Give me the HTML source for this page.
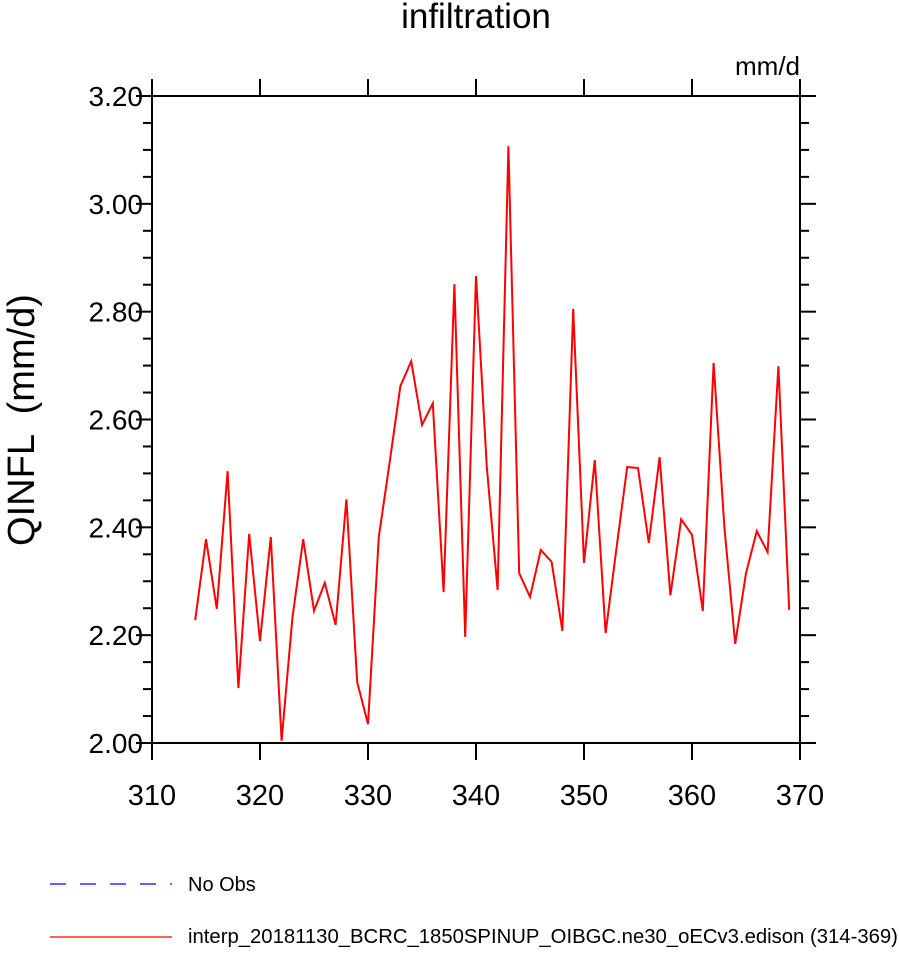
<!DOCTYPE html>
<html><head><meta charset="utf-8"><style>
body{margin:0;background:#fff;}
svg text{font-family:"Liberation Sans",sans-serif;fill:#000;}
</style></head><body>
<svg id="chart" width="899" height="948" xmlns="http://www.w3.org/2000/svg">
<text x="476" y="28" font-size="35" text-anchor="middle">infiltration</text>
<text x="800" y="75" font-size="26" text-anchor="end">mm/d</text>
<text transform="translate(34,420) rotate(-90)" font-size="38" text-anchor="middle" xml:space="preserve">QINFL  (mm/d)</text>
<g id="axes"></g>
<g id="series"></g>
<g>
<line x1="50" y1="884" x2="172" y2="884" stroke="#00f" stroke-width="1.3" stroke-dasharray="16,14"/>
<text x="188" y="891" font-size="20">No Obs</text>
<line x1="50" y1="937" x2="172" y2="937" stroke="#f00" stroke-width="1.3"/>
<text x="188" y="943" font-size="20.3">interp_20181130_BCRC_1850SPINUP_OIBGC.ne30_oECv3.edison (314-369)</text>
</g>
</svg>
<script>
const years=[314,315,316,317,318,319,320,321,322,323,324,325,326,327,328,329,330,331,332,333,334,335,336,337,338,339,340,341,342,343,344,345,346,347,348,349,350,351,352,353,354,355,356,357,358,359,360,361,362,363,364,365,366,367,368,369];
const values=[2.228,2.378,2.249,2.504,2.102,2.388,2.189,2.382,2.004,2.232,2.378,2.245,2.297,2.219,2.452,2.113,2.035,2.382,2.52,2.662,2.708,2.590,2.630,2.280,2.851,2.197,2.866,2.512,2.284,3.107,2.315,2.271,2.358,2.336,2.208,2.805,2.334,2.525,2.204,2.36,2.512,2.510,2.371,2.530,2.274,2.415,2.386,2.245,2.705,2.40,2.184,2.315,2.393,2.354,2.699,2.247];
const xTicks=[310,320,330,340,350,360,370];
const yTicks=[2.0,2.2,2.4,2.6,2.8,3.0,3.2];
const yTickLabels=["2.00","2.20","2.40","2.60","2.80","3.00","3.20"];
const L=152,R=800,T=96,B=743,x0=310,x1=370,y0=2.0,y1=3.2;
const sx=v=>L+(v-x0)/(x1-x0)*(R-L);
const sy=v=>B-(v-y0)/(y1-y0)*(B-T);
const NS="http://www.w3.org/2000/svg";
const ax=document.getElementById('axes');
function ln(a,b,c,d,name){const e=document.createElementNS(NS,'line');e.setAttribute('x1',a);e.setAttribute('y1',b);e.setAttribute('x2',c);e.setAttribute('y2',d);e.setAttribute('stroke','#000');e.setAttribute('stroke-width','2');


ax.appendChild(e);}
const fr=document.createElementNS(NS,'rect');fr.setAttribute('x',L);fr.setAttribute('y',T);fr.setAttribute('width',R-L);fr.setAttribute('height',B-T);fr.setAttribute('fill','none');fr.setAttribute('stroke','#000');fr.setAttribute('stroke-width','2');


ax.appendChild(fr);
xTicks.forEach(v=>{const x=sx(v);ln(x,B,x,B+17,'x-tick');ln(x,T,x,T-17,'x-tick-top');
const t=document.createElementNS(NS,'text');t.setAttribute('x',x);t.setAttribute('y',805);t.setAttribute('font-size','29');t.setAttribute('text-anchor','middle');t.textContent=v;


ax.appendChild(t);});
for(let v=y0;v<=y1+1e-9;v+=0.05){const y=sy(v);const major=Math.abs(Math.round(v*5)-v*5)<1e-6;const len=major?16:9;ln(L,y,L-len,y,'y-tick');ln(R,y,R+len,y,'y-tick-right');}
yTicks.forEach((v,i)=>{const t=document.createElementNS(NS,'text');t.setAttribute('x',143);t.setAttribute('y',sy(v)+10);t.setAttribute('font-size','28');t.setAttribute('text-anchor','end');t.textContent=yTickLabels[i];


ax.appendChild(t);});
const p=document.createElementNS(NS,'polyline');
p.setAttribute('points',years.map((y,i)=>sx(y)+','+sy(values[i])).join(' '));
p.setAttribute('fill','none');p.setAttribute('stroke','#f00');p.setAttribute('stroke-width','2');


document.getElementById('series').appendChild(p);
</script>
</body></html>
